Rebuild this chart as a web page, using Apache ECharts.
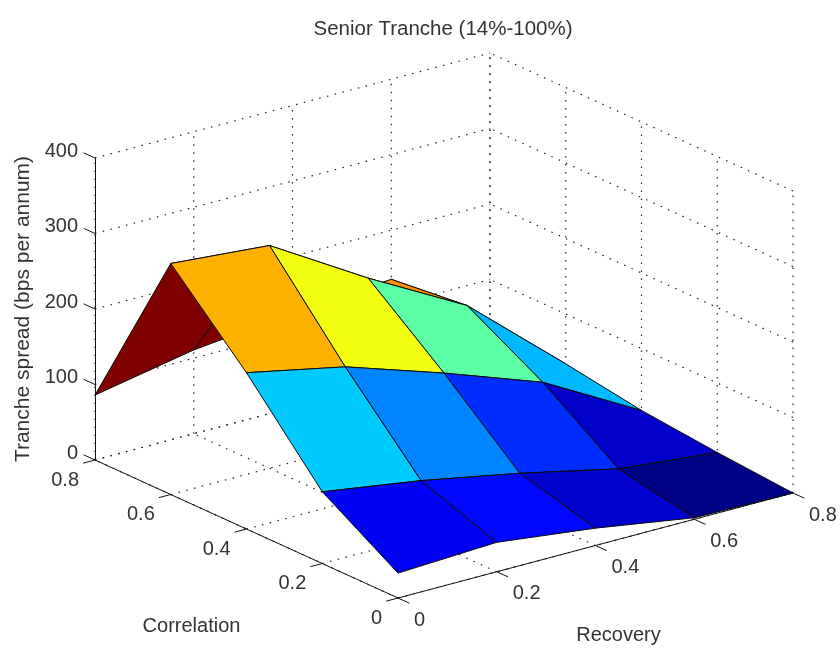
<!DOCTYPE html>
<html><head><meta charset="utf-8">
<style>html,body{margin:0;padding:0;background:#fff}#c{width:840px;height:653px}</style>
<script src="https://cdn.jsdelivr.net/npm/echarts@6/dist/echarts.min.js"></script>
</head><body><div id="c"></div>
<script>
// ---- data ----
const titleText = 'Senior Tranche (14%-100%)';
const recoveryTicks = [0, 0.2, 0.4, 0.6, 0.8];
const correlationTicks = [0, 0.2, 0.4, 0.6, 0.8];
const spreadTicks = [0, 100, 200, 300, 400];
const spreadCorr00 = [33, 39, 23, 2, 0];
const spreadCorr02 = [95, 75, 50, 21, 8];
const spreadCorr04 = [207, 180, 137, 90, 18];
const spreadCorr06 = [306, 295, 217, 146, 34];
const spreadCorr08 = [86, 111, 125, 135, 33];
const surface = [spreadCorr00, spreadCorr02, spreadCorr04, spreadCorr06, spreadCorr08];

// ---- view of the 3-D box (oblique orthographic projection) ----
const FAMILY = '"Liberation Sans", Arial, sans-serif';
const FONT = '20px ' + FAMILY;
const INK = '#333';
const Xspan = 698, Rx = 395, Cx = 303;      // horizontal run of each floor axis
const PxPerBps = 0.755, Ry = 105, Cy = 138; // vertical run of each floor axis
const Rmax = 0.8, Cmax = 0.8, Zmax = 400;
const colorLimit = 295;                     // top of the jet colour range

function project(r, c, z) {
  const x = (r / Rmax) * Rx + (1 - c / Cmax) * Cx;
  const y = z + (-Cy + (r / Rmax) * Ry + (c / Cmax) * Cy) / PxPerBps;
  return [x, y];
}
function jet(t) {
  t = Math.min(1, Math.max(0, t));
  const f = v => Math.round(255 * Math.max(0, Math.min(1, v)));
  return 'rgb(' + f(1.5 - Math.abs(4 * t - 3)) + ',' + f(1.5 - Math.abs(4 * t - 2)) + ',' + f(1.5 - Math.abs(4 * t - 1)) + ')';
}

// dotted grid on the floor and two back walls
const gridSegs = [];
recoveryTicks.forEach(r => {
  gridSegs.push([r, 0, 0, r, Cmax, 0]);
  gridSegs.push([r, Cmax, 0, r, Cmax, Zmax]);
});
correlationTicks.forEach(c => {
  gridSegs.push([0, c, 0, Rmax, c, 0]);
  gridSegs.push([Rmax, c, 0, Rmax, c, Zmax]);
});
spreadTicks.forEach(z => {
  gridSegs.push([0, Cmax, z, Rmax, Cmax, z]);
  gridSegs.push([Rmax, 0, z, Rmax, Cmax, z]);
});

// solid axis lines and slanted tick marks
const TR = 0.024, TC = 0.03;
const axisSegs = [[0, 0, 0, Rmax, 0, 0], [0, 0, 0, 0, Cmax, 0]];
recoveryTicks.forEach(r => axisSegs.push([r, 0, 0, r, -TC, 0]));
correlationTicks.forEach(c => axisSegs.push([0, c, 0, -TR, c, 0]));
spreadTicks.forEach(z => axisSegs.push([0, Cmax, z, 0, Cmax + TC, z]));

// quads back to front; flat colour comes from the lowest-index corner
const quads = [];
for (let i = correlationTicks.length - 2; i >= 0; i--) {
  for (let j = recoveryTicks.length - 2; j >= 0; j--) quads.push([i, j]);
}

function lineItem(style) {
  return (params, api) => {
    const s = [api.value(0), api.value(1), api.value(2), api.value(3), api.value(4), api.value(5)];
    const a = api.coord(project(s[0], s[1], s[2]));
    const b = api.coord(project(s[3], s[4], s[5]));
    return { type: 'line', shape: { x1: a[0], y1: a[1], x2: b[0], y2: b[1] }, style: style, silent: true };
  };
}
function quadItem(params, api) {
  const i = api.value(0), j = api.value(1);
  const corner = (ci, rj) => api.coord(project(recoveryTicks[rj], correlationTicks[ci], surface[ci][rj]));
  return {
    type: 'polygon',
    shape: { points: [corner(i, j), corner(i, j + 1), corner(i + 1, j + 1), corner(i + 1, j)] },
    style: { fill: jet(surface[i][j] / colorLimit), stroke: '#0a0a0a', lineWidth: 1, lineJoin: 'round' },
    silent: true
  };
}
function tickLabel(list, along, dx, dy, align) {
  return {
    type: 'custom', coordinateSystem: 'cartesian2d', silent: true, z: 6,
    data: list.map(v => [v]),
    encode: { x: -1, y: -1 },
    renderItem: (params, api) => {
      const v = api.value(0);
      const p = api.coord(along === 'r' ? project(v, 0, 0) : project(0, v, 0));
      return { type: 'text', style: { x: p[0] + dx, y: p[1] + dy, text: String(v), font: FONT, fill: INK, align: align, verticalAlign: 'middle' } };
    }
  };
}
function axisTitle(text, r, c, dx, dy) {
  return {
    type: 'custom', coordinateSystem: 'cartesian2d', silent: true, z: 6,
    data: [[r, c]],
    encode: { x: -1, y: -1 },
    renderItem: (params, api) => {
      const p = api.coord(project(api.value(0), api.value(1), 0));
      return { type: 'text', style: { x: p[0] + dx, y: p[1] + dy, text: text, font: FONT, fill: INK, align: 'center', verticalAlign: 'middle' } };
    }
  };
}

const chart = echarts.init(document.getElementById('c'), null, { renderer: 'canvas' });
chart.setOption({
  animation: false,
  backgroundColor: '#fff',
  title: {
    text: titleText, left: 438, top: 14, textAlign: 'center',
    textStyle: { fontFamily: FAMILY, fontSize: 20.5, fontWeight: 'normal', color: INK }
  },
  grid: { left: 95, right: 47, top: 158, bottom: 193, containLabel: false, outerBoundsMode: 'none' },
  xAxis: { type: 'value', min: 0, max: Xspan, show: false },
  yAxis: {
    type: 'value', min: 0, max: Zmax, interval: 100,
    name: 'Tranche spread (bps per annum)', nameLocation: 'middle', nameRotate: 90, nameGap: 60,
    nameTextStyle: { fontFamily: FAMILY, fontSize: 21, color: INK },
    axisLine: { show: true, onZero: false, lineStyle: { color: '#111', width: 1 } },
    axisTick: { show: false },
    splitLine: { show: false },
    axisLabel: { margin: 17, verticalAlign: 'bottom', lineHeight: 14, fontFamily: FAMILY, fontSize: 20, color: INK }
  },
  series: [
    { type: 'custom', coordinateSystem: 'cartesian2d', silent: true, z: 1, data: gridSegs, encode: { x: -1, y: -1 },
      renderItem: lineItem({ stroke: '#222', lineWidth: 1.2, lineDash: [1.5, 6.5] }) },
    { type: 'custom', coordinateSystem: 'cartesian2d', silent: true, z: 2, data: axisSegs, encode: { x: -1, y: -1 },
      renderItem: lineItem({ stroke: '#111', lineWidth: 1 }) },
    { type: 'custom', coordinateSystem: 'cartesian2d', silent: true, z: 3, data: quads, encode: { x: -1, y: -1 },
      renderItem: quadItem },
    tickLabel(correlationTicks, 'c', -16, 20, 'right'),
    tickLabel(recoveryTicks, 'r', 16, 22, 'left'),
    axisTitle('Correlation', 0, 0.4, -55, 97),
    axisTitle('Recovery', 0.4, 0, 23, 90)
  ]
});
</script></body></html>
